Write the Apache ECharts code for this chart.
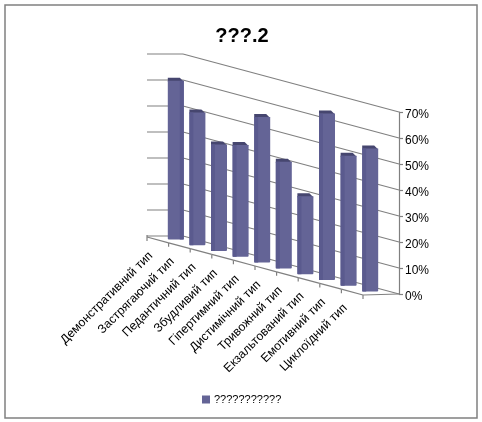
<!DOCTYPE html>
<html>
<head>
<meta charset="utf-8">
<style>html,body{margin:0;padding:0;background:#fff}#c{width:482px;height:422px}</style>
<script src="https://cdn.jsdelivr.net/npm/echarts@6/dist/echarts.min.js"></script>
</head>
<body>
<div id="c"></div>
<script>
const categories = ['Демонстративний тип','Застрягаючий тип','Педантичний тип','Збудливий тип','Гіпертимний тип','Дистимічний тип','Тривожний тип','Екзальтований тип','Емотивний тип','Циклоїдний тип'];
const values = [61, 51, 41, 43, 56, 41, 30, 64, 50, 55];
const yTicks = [0, 10, 20, 30, 40, 50, 60, 70];
const titleText = '???.2';
const seriesName = '???????????';

const GRID = '#808080', FRONT = '#646496', SIDE = '#5a5a8e', TOP = '#46466f';
const SLOPE = 0.2685, DEPTH = 36, BAR_W = 16;

function project(u, d, y, x1) {
  return [u - DEPTH * d, y - (x1 - u) * SLOPE + d];
}
const lineStyle = { stroke: GRID, lineWidth: 1.2, fill: null };

const chart = echarts.init(document.getElementById('c'), null, { renderer: 'canvas' });
chart.setOption({
  animation: false,
  backgroundColor: '#fff',
  title: {
    text: titleText, left: 237, top: 21, textAlign: 'center',
    textStyle: { fontFamily: 'Liberation Sans', fontSize: 20, fontWeight: 'bold', color: '#000' }
  },
  legend: {
    left: 197, top: 389, itemWidth: 8, itemHeight: 8, itemGap: 4,
    data: [{ name: seriesName, icon: 'rect', itemStyle: { color: FRONT } }],
    textStyle: { fontFamily: 'Liberation Sans', fontSize: 11, color: '#000', padding: [0, 0, 0, -1] }
  },
  grid: { left: 183, right: 83, top: 112, bottom: 128 },
  xAxis: { type: 'category', data: categories, show: false },
  yAxis: {
    type: 'value', position: 'right', min: 0, max: 70, interval: 10,
    axisLine: { show: true, lineStyle: { color: GRID, width: 1.2 } },
    axisTick: { show: true, length: 4, lineStyle: { color: GRID, width: 1.2 } },
    splitLine: { show: false },
    axisLabel: { formatter: '{value}%', margin: 6, color: '#000', fontFamily: 'Liberation Sans', fontSize: 12, verticalAlign: 'top', lineHeight: 6 }
  },
  series: [
    {
      type: 'custom', name: 'walls', silent: true, z: 1,
      data: yTicks.map(t => [0, t]),
      renderItem(params, api) {
        const cs = params.coordSys, x1 = cs.x + cs.width, y = api.coord([0, api.value(1)])[1];
        const a = project(cs.x, 0, y, x1), b = project(x1, 0, y, x1);
        return { type: 'group', children: [
          { type: 'line', shape: { x1: a[0], y1: a[1], x2: b[0], y2: b[1] }, style: lineStyle },
          { type: 'line', shape: { x1: a[0] - DEPTH, y1: a[1], x2: a[0], y2: a[1] }, style: lineStyle }
        ]};
      }
    },
    {
      type: 'custom', name: 'floor', silent: true, z: 2,
      data: categories.map((c, i) => [i, 0]),
      renderItem(params, api) {
        const cs = params.coordSys, x1 = cs.x + cs.width, bw = api.size([1, 0])[0];
        const i = api.value(0), p = api.coord([i, 0]), y = p[1];
        const a = project(p[0] - bw / 2, 1, y, x1), b = project(p[0] + bw / 2, 1, y, x1), c = project(p[0], 1, y, x1);
        const kids = [
          { type: 'line', shape: { x1: a[0], y1: a[1], x2: b[0], y2: b[1] }, style: lineStyle },
          { type: 'line', shape: { x1: b[0], y1: b[1], x2: b[0], y2: b[1] + 4 }, style: lineStyle },
          { type: 'text', x: c[0] - 7, y: c[1] + 14, rotation: Math.PI / 4,
            style: { text: categories[i], align: 'right', verticalAlign: 'middle', fill: '#000',
                     font: '12.3px "Liberation Sans"' } }
        ];
        if (i === 0) kids.push({ type: 'line', shape: { x1: a[0], y1: a[1] - 2, x2: a[0], y2: a[1] + 4 }, style: lineStyle });
        if (i === categories.length - 1) kids.push({ type: 'line', shape: { x1: b[0], y1: b[1], x2: x1, y2: y }, style: lineStyle });
        return { type: 'group', children: kids };
      }
    },
    {
      type: 'custom', name: seriesName, z: 3,
      itemStyle: { color: FRONT },
      data: values.map((v, i) => [i, v]),
      renderItem(params, api) {
        const cs = params.coordSys, x1 = cs.x + cs.width;
        const i = api.value(0), top = api.coord([i, api.value(1)]), base = api.coord([i, 0]);
        const c = project(top[0], 0.5, top[1], x1), b = project(base[0], 0.5, base[1], x1);
        const l = c[0] - BAR_W / 2, r = c[0] + BAR_W / 2, sw = 4;
        const sideX = i === 0 ? r - sw : l;
        return { type: 'group', children: [
          { type: 'polygon', shape: { points: [[l, c[1] - 3], [r - 4, c[1] - 3], [r, c[1] + 1], [l, c[1] + 1]] }, style: { fill: TOP } },
          { type: 'rect', shape: { x: l, y: c[1], width: BAR_W, height: b[1] - c[1], r: [0, 0, 1, 1] }, style: { fill: FRONT } },
          { type: 'rect', shape: { x: sideX, y: c[1], width: sw, height: b[1] - c[1] }, style: { fill: SIDE } }
        ]};
      }
    }
  ],
  graphic: [{
    type: 'rect', silent: true, z: 0,
    shape: { x: 5, y: 5, width: 472, height: 413 },
    style: { fill: null, stroke: GRID, lineWidth: 1.5 }
  }]
});
</script>
</body>
</html>
